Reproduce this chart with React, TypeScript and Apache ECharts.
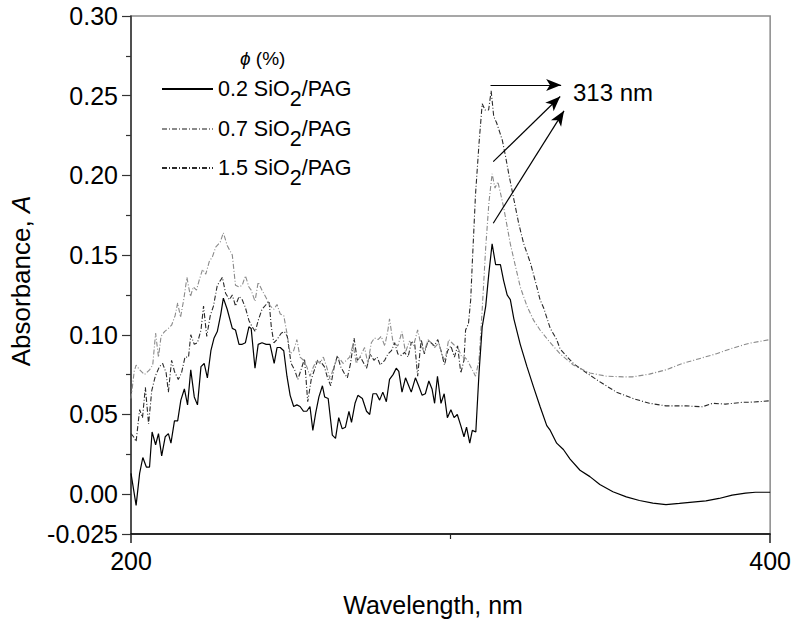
import React, { useEffect, useRef } from "react";
import * as echarts from "echarts";

const FONT = "'Liberation Sans', Arial, Helvetica, sans-serif";

const seriesNames = ["0.2", "0.7", "1.5"];
const seriesColors = ["#000000", "#8a8a8a", "#2a2a2a"];

const yLabelValues = [-0.025, 0, 0.05, 0.1, 0.15, 0.2, 0.25, 0.3];
const yMinorValues = [0.025, 0.075, 0.125, 0.175, 0.225, 0.275];
const xLabelValues = [200, 400];
const xMinorValues = [300];

// wavelength (nm), absorbance
const spectrum02: [number, number][] = [
  [200, 0.013], [201.6, -0.007], [202.7, 0.013], [203.7, 0.023], [204.8, 0.017], [205.8, 0.017],
  [206.6, 0.039], [207.7, 0.031], [208.6, 0.038], [209.6, 0.024], [210.7, 0.036], [211.7, 0.038],
  [212.5, 0.032], [213.6, 0.046], [214.6, 0.046], [215.6, 0.059], [216.7, 0.066], [217.7, 0.056],
  [218.7, 0.078], [219.8, 0.061], [220.8, 0.056], [221.9, 0.08], [222.9, 0.082], [223.9, 0.073],
  [225, 0.09], [226, 0.098], [227, 0.102], [228.1, 0.113], [228.9, 0.123], [230.1, 0.116],
  [231.7, 0.104], [232.7, 0.103], [233.8, 0.094], [234.8, 0.094], [235.8, 0.095], [236.9, 0.105],
  [237.6, 0.104], [238.8, 0.079], [239.8, 0.094], [241, 0.095], [242.3, 0.094], [243.5, 0.094],
  [244.8, 0.082], [245.7, 0.092], [246.7, 0.092], [247.8, 0.09], [248.8, 0.074], [249.8, 0.062],
  [250.9, 0.055], [251.9, 0.056], [252.9, 0.055], [254, 0.052], [255, 0.052], [256, 0.055],
  [256.9, 0.04], [257.8, 0.051], [258.8, 0.061], [259.9, 0.068], [260.6, 0.061], [261.7, 0.06],
  [263, 0.037], [264, 0.035], [265, 0.048], [266.1, 0.041], [267.1, 0.042], [268.2, 0.052],
  [269, 0.045], [270.1, 0.057], [271, 0.062], [272.4, 0.06], [273.7, 0.052], [274.7, 0.05],
  [275.7, 0.063], [276.8, 0.063], [277.8, 0.059], [278.8, 0.064], [279.9, 0.058], [280.9, 0.072],
  [282, 0.075], [283, 0.079], [283.8, 0.077], [284.8, 0.064], [285.9, 0.073], [286.9, 0.068],
  [287.7, 0.064], [289, 0.073], [290, 0.068], [291.1, 0.062], [292.1, 0.063], [293.2, 0.071],
  [294.2, 0.066], [295, 0.057], [295.9, 0.074], [297, 0.057], [298, 0.063], [299, 0.048],
  [300.1, 0.053], [301.1, 0.048], [302.1, 0.05], [303.2, 0.043], [304.2, 0.036], [305, 0.042],
  [306, 0.032], [306.8, 0.04], [307.9, 0.039], [308.9, 0.076], [309.9, 0.105], [311, 0.118],
  [312, 0.139], [313, 0.157], [314.1, 0.144], [315.6, 0.144], [316.6, 0.134], [317.7, 0.125],
  [318.7, 0.122], [319.8, 0.11], [321.8, 0.094], [323.9, 0.08], [326, 0.067], [328, 0.055],
  [330.1, 0.043], [331.2, 0.04], [333.2, 0.032], [335.3, 0.028], [337.4, 0.022], [340.5, 0.015],
  [343.6, 0.011], [346.7, 0.006], [350.8, 0.0015], [355, -0.0017], [359.1, -0.004], [363.3, -0.0056],
  [367.4, -0.0066], [371.6, -0.0058], [375.7, -0.005], [379.9, -0.0042], [384, -0.0027], [388.1, -0.0006],
  [392.3, 0.0006], [395.4, 0.0012], [400, 0.0012],
];

const spectrum07: [number, number][] = [
  [200, 0.06], [201, 0.077], [201.6, 0.081], [202.7, 0.078], [204.2, 0.075], [205.8, 0.078],
  [206.8, 0.081], [207.7, 0.101], [208.6, 0.086], [209.4, 0.099], [210.5, 0.102], [211.7, 0.104],
  [212.7, 0.106], [213.8, 0.112], [214.6, 0.12], [215.5, 0.111], [216.5, 0.122], [217.5, 0.136],
  [218.6, 0.124], [219.5, 0.13], [220.5, 0.128], [221.3, 0.134], [222.4, 0.141], [223.4, 0.138],
  [224.5, 0.146], [225.5, 0.149], [226.5, 0.155], [227.9, 0.158], [228.9, 0.164], [230.1, 0.156],
  [231.7, 0.15], [232.7, 0.131], [233.8, 0.13], [234.8, 0.131], [235.8, 0.137], [236.9, 0.13],
  [237.6, 0.128], [238.8, 0.121], [239.8, 0.133], [241, 0.128], [242.6, 0.122], [243.6, 0.118],
  [244.7, 0.116], [245.7, 0.119], [246.7, 0.113], [247.8, 0.112], [248.8, 0.101], [249.8, 0.088],
  [250.9, 0.09], [251.9, 0.097], [252.9, 0.086], [254, 0.084], [255, 0.08], [256, 0.074],
  [257.1, 0.08], [258.1, 0.084], [259.1, 0.082], [260.2, 0.086], [261.2, 0.08], [262.3, 0.072],
  [263.3, 0.079], [264.3, 0.084], [265.3, 0.085], [266.4, 0.082], [267.4, 0.084], [268.4, 0.086],
  [269.5, 0.094], [270.5, 0.082], [271.6, 0.086], [273.1, 0.092], [274.1, 0.082], [275.2, 0.095],
  [276.2, 0.098], [277.3, 0.097], [278.3, 0.099], [279.4, 0.093], [280.4, 0.103], [280.9, 0.11],
  [282, 0.095], [283.5, 0.093], [284.8, 0.102], [285.9, 0.089], [287.1, 0.096], [288.4, 0.093],
  [289.7, 0.103], [290.8, 0.093], [291.8, 0.089], [292.9, 0.097], [293.9, 0.095], [295, 0.092],
  [296.3, 0.095], [297.4, 0.087], [298.3, 0.084], [299.4, 0.097], [300.4, 0.095], [301.4, 0.093],
  [302.5, 0.091], [303.5, 0.086], [304.4, 0.086], [305.3, 0.084], [306.3, 0.08], [307.8, 0.074],
  [308.9, 0.084], [309.9, 0.116], [311, 0.155], [312, 0.183], [313, 0.201], [313.9, 0.192],
  [314.8, 0.196], [315.6, 0.189], [316.6, 0.18], [317.7, 0.168], [318.7, 0.157], [320.3, 0.143],
  [321.8, 0.13], [323.9, 0.118], [326, 0.109], [328, 0.103], [331.2, 0.095], [334.3, 0.088],
  [338.4, 0.081], [343.6, 0.076], [348.8, 0.074], [354, 0.0736], [356.9, 0.0736], [362.2, 0.0753],
  [367.4, 0.078], [372.6, 0.082], [377.8, 0.085], [383, 0.088], [388.1, 0.0915], [393.3, 0.0946],
  [400, 0.097],
];

const spectrum15: [number, number][] = [
  [200, 0.038], [200.8, 0.036], [201.6, 0.033], [202.7, 0.053], [203.6, 0.048], [204.5, 0.067],
  [205.5, 0.044], [206.5, 0.065], [207.6, 0.074], [208.9, 0.08], [209.9, 0.082], [211, 0.076],
  [211.7, 0.064], [212.7, 0.084], [213.6, 0.077], [214.8, 0.072], [215.8, 0.076], [216.9, 0.086],
  [218, 0.086], [218.7, 0.1], [219.8, 0.094], [220.8, 0.095], [221.9, 0.103], [222.7, 0.118],
  [223.7, 0.099], [224.8, 0.112], [225.8, 0.118], [227, 0.131], [228.6, 0.136], [229.6, 0.126],
  [230.8, 0.122], [231.7, 0.125], [232.7, 0.118], [233.8, 0.124], [234.8, 0.122], [235.8, 0.117],
  [236.9, 0.109], [237.9, 0.105], [238.9, 0.102], [239.8, 0.109], [241, 0.116], [242.3, 0.119],
  [243.2, 0.121], [243.9, 0.105], [244.7, 0.095], [245.7, 0.097], [247, 0.101], [248, 0.102],
  [248.9, 0.099], [250.1, 0.082], [251.2, 0.078], [252.2, 0.072], [253.2, 0.078], [254.3, 0.085],
  [255.3, 0.058], [256.4, 0.072], [257.4, 0.078], [258.4, 0.084], [259.4, 0.083], [260.5, 0.08],
  [261.5, 0.073], [262.5, 0.068], [263.6, 0.08], [264.6, 0.087], [265.6, 0.08], [266.7, 0.076],
  [267.7, 0.073], [268.7, 0.082], [269.8, 0.098], [270.8, 0.084], [271.8, 0.086], [273.7, 0.079],
  [274.9, 0.088], [276, 0.084], [277, 0.086], [278, 0.081], [279.4, 0.084], [280.4, 0.088],
  [281.5, 0.09], [282.5, 0.095], [283.5, 0.088], [284.6, 0.087], [285.6, 0.089], [286.7, 0.086],
  [287.7, 0.095], [288.7, 0.096], [289.7, 0.074], [290.8, 0.097], [291.8, 0.088], [292.9, 0.096],
  [293.9, 0.095], [294.9, 0.093], [296, 0.097], [297, 0.09], [298.1, 0.081], [299.1, 0.09],
  [300.1, 0.093], [301.2, 0.086], [302.2, 0.093], [303.2, 0.076], [304.2, 0.084], [304.7, 0.103],
  [305.6, 0.107], [306.3, 0.122], [306.8, 0.145], [307.8, 0.188], [308.9, 0.22], [309.9, 0.245],
  [310.8, 0.241], [311.9, 0.241], [312.7, 0.253], [313.5, 0.237], [314.4, 0.233], [315.4, 0.227],
  [316.2, 0.222], [317.2, 0.212], [318.2, 0.201], [319.8, 0.185], [321.3, 0.17], [322.9, 0.157],
  [325, 0.145], [327, 0.13], [328, 0.122], [329.1, 0.117], [331.2, 0.104], [333.2, 0.097],
  [334.3, 0.091], [338.4, 0.082], [342.6, 0.076], [346.7, 0.0705], [351.9, 0.064], [357.1, 0.06],
  [362.2, 0.057], [367.4, 0.0554], [373.6, 0.0554], [378.8, 0.0548], [382, 0.057], [386, 0.0565],
  [391.3, 0.0576], [395, 0.0578], [400, 0.0586],
];

// annotation arrows pointing to the 313 nm label: [start, end] in (nm, A)
const peakArrows: [number, number][][] = [
  [[312.5, 0.2567], [334.6, 0.2567]],
  [[313.35, 0.2086], [334.3, 0.2495]],
  [[313.35, 0.17], [335.5, 0.2405]],
];
const peakLabel = "313 nm";
const peakLabelAt: [number, number] = [338.3, 0.2517];

const legendTops = [78, 118, 157];
const dashDot = [5, 2, 1, 2];

export default function App() {
  const ref = useRef<HTMLDivElement>(null);

  useEffect(() => {
    document.body.style.margin = "0";
    if (!ref.current) return;
    const chart = echarts.init(ref.current, undefined, { renderer: "svg" });
    const spectra = [spectrum02, spectrum07, spectrum15];

    const series: any[] = spectra.map((d, i) => ({
      name: seriesNames[i],
      type: "line",
      data: d,
      symbol: "none",
      showSymbol: false,
      smooth: false,
      z: 3 - i,
      lineStyle: {
        color: seriesColors[i],
        width: i === 0 ? 1.2 : 1.1,
        type: i === 0 ? "solid" : dashDot,
      },
      itemStyle: { color: seriesColors[i] },
    }));

    series[0].markLine = {
      silent: true,
      symbol: ["none", "arrow"],
      symbolSize: [9, 15],
      animation: false,
      label: { show: false },
      lineStyle: { color: "#000", width: 1.2, type: "solid" },
      data: peakArrows.map((a) => [{ coord: a[0] }, { coord: a[1] }]),
    };
    series[0].markPoint = {
      silent: true,
      symbol: "circle",
      symbolSize: 0,
      animation: false,
      label: {
        show: true,
        position: "right",
        distance: 0,
        formatter: peakLabel,
        color: "#000",
        fontSize: 24,
        fontFamily: FONT,
      },
      data: [{ coord: peakLabelAt }],
    };

    const axisText = { fontFamily: FONT, color: "#000", fontSize: 25 };
    const nameText = { fontFamily: FONT, color: "#000", fontSize: 26 };
    const legendText = { fontFamily: FONT, color: "#000", fontSize: 21.5 };

    chart.setOption({
      animation: false,
      backgroundColor: "#ffffff",
      grid: {
        left: 128,
        right: 22,
        top: 16,
        bottom: 89,
        show: true,
        borderColor: "#8a8a8a",
        borderWidth: 1.5,
        backgroundColor: "transparent",
      },
      legend: seriesNames.map((name, i) => ({
        data: [name],
        left: 161,
        top: legendTops[i],
        padding: 0,
        itemWidth: 51,
        itemHeight: 14,
        selectedMode: false,
        itemStyle: { color: "rgba(0,0,0,0)", borderColor: "rgba(0,0,0,0)", borderWidth: 0 },
        formatter: (n: string) => `${n} SiO{sub|2}/PAG`,
        textStyle: {
          ...legendText,
          rich: { sub: { ...legendText, padding: [20, 0, 0, 0] } },
        },
      })),
      graphic: [
        {
          type: "text",
          left: 240,
          top: 49,
          style: {
            text: "{i|ϕ} (%)",
            fontFamily: FONT,
            fontSize: 19,
            fill: "#000",
            rich: { i: { fontFamily: FONT, fontSize: 19, fontStyle: "italic" } },
          },
        },
      ],
      xAxis: [
        {
          type: "value",
          min: 200,
          max: 400,
          name: "Wavelength, nm",
          nameLocation: "middle",
          nameGap: 58,
          nameTextStyle: { ...axisText, padding: [0, 35, 0, 0] },
          axisLine: { show: true, onZero: false, lineStyle: { color: "#000", width: 1.5 } },
          axisTick: { show: true, inside: false, length: 9, customValues: xLabelValues, lineStyle: { color: "#222", width: 1.5 } },
          axisLabel: { show: true, margin: 14, customValues: xLabelValues, ...axisText },
          splitLine: { show: false },
        },
        {
          type: "value",
          min: 200,
          max: 400,
          position: "bottom",
          axisLine: { show: false, onZero: false },
          axisTick: { show: true, inside: false, length: 5, customValues: xMinorValues, lineStyle: { color: "#222", width: 1.2 } },
          axisLabel: { show: false },
          splitLine: { show: false },
        },
      ],
      yAxis: [
        {
          type: "value",
          min: -0.025,
          max: 0.3,
          name: "Absorbance, {i|A}",
          nameLocation: "middle",
          nameGap: 97,
          nameTextStyle: {
            ...nameText,
            padding: [0, 12, 0, 0],
            rich: { i: { ...nameText, fontStyle: "italic" } },
          },
          axisLine: { show: true, onZero: false, lineStyle: { color: "#333", width: 1.5 } },
          axisTick: { show: true, inside: false, length: 9, customValues: yLabelValues, lineStyle: { color: "#333", width: 1.2 } },
          axisLabel: {
            show: true,
            margin: 13,
            customValues: yLabelValues,
            formatter: (v: number) => (Math.abs(v + 0.025) < 1e-9 ? "-0.025" : v.toFixed(2)),
            ...axisText,
          },
          splitLine: { show: false },
        },
        {
          type: "value",
          min: -0.025,
          max: 0.3,
          position: "left",
          axisLine: { show: false, onZero: false },
          axisTick: { show: true, inside: false, length: 5, customValues: yMinorValues, lineStyle: { color: "#333", width: 1.2 } },
          axisLabel: { show: false },
          splitLine: { show: false },
        },
      ],
      series,
    });

    return () => chart.dispose();
  }, []);

  return <div ref={ref} style={{ width: 794, height: 623 }} />;
}
